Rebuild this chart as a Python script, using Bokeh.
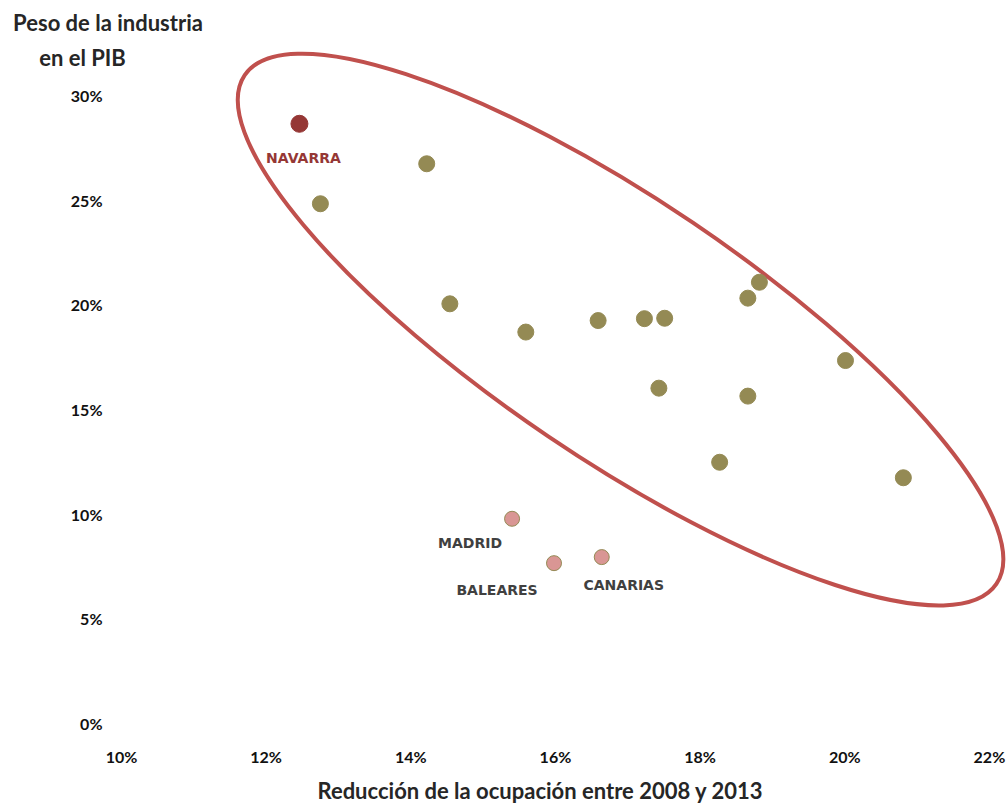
from bokeh.plotting import figure
from bokeh.models import FixedTicker, Label, ColumnDataSource, Range1d
from bokeh.core.properties import value
from bokeh.embed import file_html
from bokeh.resources import INLINE

# ---- data (percent units) ----
region_x = [12.75, 14.22, 14.54, 15.59, 16.59, 17.23, 17.51, 17.43, 18.66, 18.82, 18.66, 18.27, 20.01, 20.81]
region_y = [24.83, 26.74, 20.05, 18.70, 19.25, 19.34, 19.36, 16.02, 20.32, 21.08, 15.64, 12.48, 17.34, 11.74]

navarra_name = ["NAVARRA"]
navarra_x = [12.46]
navarra_y = [28.65]

low_names = ["MADRID", "BALEARES", "CANARIAS"]
low_x = [15.40, 15.98, 16.64]
low_y = [9.78, 7.66, 7.95]

x_ticks = [10, 12, 14, 16, 18, 20, 22]
y_ticks = [0, 5, 10, 15, 20, 25, 30]

# highlight ellipse (data units)
ell_cx, ell_cy = 16.90, 18.82
ell_w, ell_h = 12.55, 12.33
ell_angle = -0.595

FONT = "Lato"
LABEL_FONT = "DejaVu Sans"

# frame covers the whole canvas; axes are pinned at x=10% and y=0%
p = figure(width=1007, height=803, output_backend="svg", toolbar_location=None,
           x_range=Range1d(8.327, 22.25), y_range=Range1d(-3.822, 34.54),
           min_border_left=0, min_border_right=0, min_border_top=0, min_border_bottom=0)
p.outline_line_color = None
p.grid.visible = False
p.background_fill_color = "white"
p.border_fill_color = "white"

for ax in (p.xaxis[0], p.yaxis[0]):
    ax.axis_line_color = None
    ax.major_tick_line_color = None
    ax.minor_tick_line_color = None
    ax.major_label_text_font = FONT
    ax.major_label_text_font_style = "bold"
    ax.major_label_text_font_size = "16px"
    ax.major_label_text_color = "#111111"

p.xaxis.fixed_location = y_ticks[0]
p.yaxis.fixed_location = x_ticks[0]
p.xaxis.ticker = FixedTicker(ticks=x_ticks)
p.yaxis.ticker = FixedTicker(ticks=y_ticks)
p.xaxis.major_label_overrides = {t: f"{t}%" for t in x_ticks}
p.yaxis.major_label_overrides = {t: f"{t}%" for t in y_ticks}
p.xaxis.major_label_standoff = 18
p.yaxis.major_label_standoff = 13

# ellipse
p.ellipse(x=[ell_cx], y=[ell_cy], width=[ell_w], height=[ell_h], angle=[ell_angle],
          fill_color=None, line_color="#C0504D", line_width=4)

# points
p.scatter(region_x, region_y, size=16, fill_color="#948A54", line_color="#948A54")
p.scatter(navarra_x, navarra_y, size=17, fill_color="#953735", line_color="#953735")
p.scatter(low_x, low_y, size=15, fill_color="#D99694", line_color="#948A54", line_width=1)

# point labels
nav_src = ColumnDataSource(dict(x=navarra_x, y=navarra_y, t=navarra_name))
p.text(x="x", y="y", text="t", source=nav_src, x_offset=4, y_offset=34,
       text_align="center", text_baseline="middle", text_color="#953735",
       text_font=value(LABEL_FONT), text_font_style="bold", text_font_size="14px")

low_src = ColumnDataSource(dict(x=low_x, y=low_y, t=low_names,
                                dx=[-42, -57, 22], dy=[24, 27, 28]))
p.text(x="x", y="y", text="t", source=low_src, x_offset="dx", y_offset="dy",
       text_align="center", text_baseline="middle", text_color="#404040",
       text_font=value(LABEL_FONT), text_font_style="bold", text_font_size="14px")

# axis titles
title_kw = dict(x_units="screen", y_units="screen", text_font=FONT, text_font_style="bold",
                text_font_size="22px", text_color="#262626", text_align="center",
                text_baseline="middle")
p.add_layout(Label(x=107.5, y=781.5, text="Peso de la industria", **title_kw))
p.add_layout(Label(x=82, y=746, text="en el PIB", **title_kw))
p.add_layout(Label(x=540, y=13, text="Reducción de la ocupación entre 2008 y 2013", **title_kw))

open("out.html", "w").write(file_html(p, INLINE))
